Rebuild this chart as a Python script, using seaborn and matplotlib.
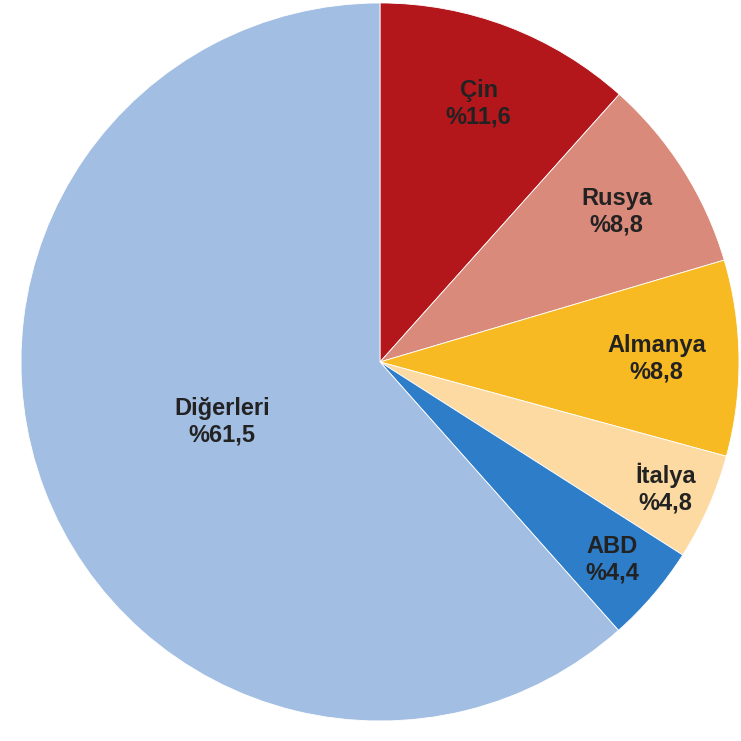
import numpy as np
import matplotlib
matplotlib.use("Agg")
import matplotlib.pyplot as plt
import seaborn as sns

# share of each country
countries = ["Çin", "Rusya", "Almanya", "İtalya", "ABD", "Diğerleri"]
shares = [11.6, 8.8, 8.8, 4.8, 4.4, 61.5]
share_labels = ["%11,6", "%8,8", "%8,8", "%4,8", "%4,4", "%61,5"]
colors = ["#B3161B", "#DA8A7A", "#F8BA22", "#FCDAA2", "#2E7DC9", "#A3BEE3"]

sns.set_theme(style="white")
plt.rcParams['font.family'] = ['Liberation Sans', 'DejaVu Sans']

fig = plt.figure(figsize=(7.41, 7.41), dpi=100)
ax = fig.add_axes([0.0283, 0.027, 0.969, 0.969])

wedges, _ = ax.pie(shares, colors=sns.color_palette(colors), startangle=90,
                   counterclock=False, radius=1.0,
                   wedgeprops=dict(edgecolor="white", linewidth=0.6))

# how far out each label sits (fraction of radius)
label_r = [0.77, 0.78, 0.77, 0.87, 0.85, 0.47]
for w, name, pct, r in zip(wedges, countries, share_labels, label_r):
    ang = np.deg2rad((w.theta1 + w.theta2) / 2)
    x, y = r * np.cos(ang), r * np.sin(ang)
    ax.text(x, y, f"{name}\n{pct}", ha="center", va="center",
            fontsize=17, fontweight="bold", color="#222222", linespacing=1.2)

ax.set_xlim(-1, 1)
ax.set_ylim(-1, 1)
ax.set_aspect("equal")
ax.axis("off")

fig.savefig("out.png", dpi=100)
